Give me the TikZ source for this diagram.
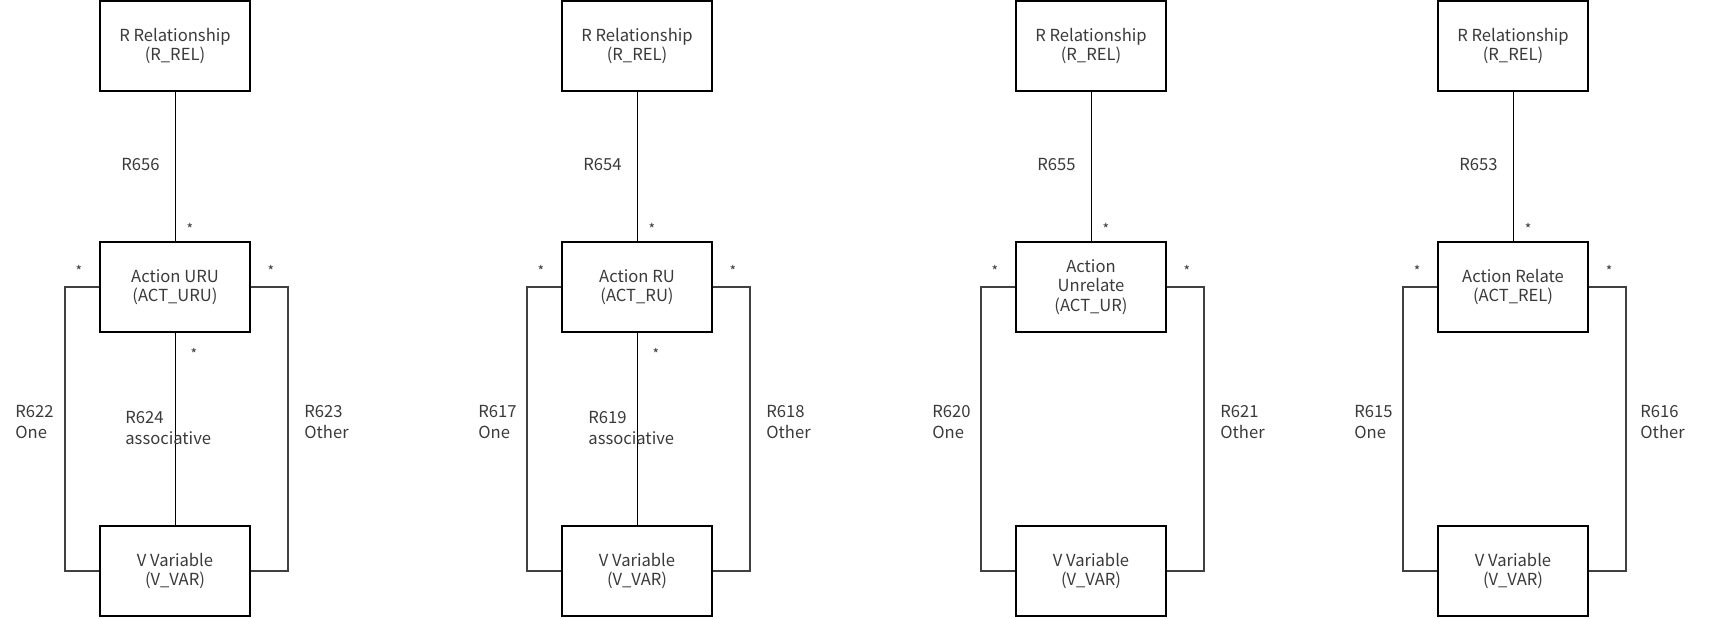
\documentclass[tikz,border=0pt]{standalone}
\usepackage{fontspec}
\setmainfont{Noto Sans CJK JP}
\usepackage{tikz}
\usetikzlibrary{positioning}
\definecolor{txtgray}{HTML}{3A3A3A}
\tikzset{
    block/.style={rectangle, draw, line width=1pt, minimum width=75pt, minimum height=45pt, align=center, text=txtgray, font=\fontsize{8.3pt}{9.8pt}\selectfont},
    rel/.style={line width=0.5pt},
    loopline/.style={line width=0.6pt, draw=black!75},
    tag/.style={align=left, anchor=west, text=txtgray, inner sep=0pt, font=\fontsize{8.3pt}{10.5pt}\selectfont},
    mult/.style={text=txtgray, inner sep=0pt, font=\fontsize{7pt}{8pt}\selectfont}
}
\begin{document}
\begin{tikzpicture}[x=0.5pt, y=-0.5pt]
    \useasboundingbox (0,0) rectangle (1728,618);

    % Nodes
    \node (rel1) [block] at (175,46) {R Relationship\\(R\_REL)};
    \node (act1) [block, below=74.5pt of rel1] {Action URU\\(ACT\_URU)};
    \node (var1) [block, below=96pt of act1] {V Variable\\(V\_VAR)};

    \node (rel2) [block] at (637,46) {R Relationship\\(R\_REL)};
    \node (act2) [block, below=74.5pt of rel2] {Action RU\\(ACT\_RU)};
    \node (var2) [block, below=96pt of act2] {V Variable\\(V\_VAR)};

    \node (rel3) [block] at (1091,46) {R Relationship\\(R\_REL)};
    \node (act3) [block, below=74.5pt of rel3] {Action\\Unrelate\\(ACT\_UR)};
    \node (var3) [block, below=96pt of act3] {V Variable\\(V\_VAR)};

    \node (rel4) [block] at (1513,46) {R Relationship\\(R\_REL)};
    \node (act4) [block, below=74.5pt of rel4] {Action Relate\\(ACT\_REL)};
    \node (var4) [block, below=96pt of act4] {V Variable\\(V\_VAR)};

    % Relationships
    \draw [rel] (rel1) -- (act1);
    \draw [rel] (act1) -- (var1);
    \draw [loopline] (act1.west) -- ++(-34,0) |- (var1.west);
    \draw [loopline] (act1.east) -- ++(37,0) |- (var1.east);

    \draw [rel] (rel2) -- (act2);
    \draw [rel] (act2) -- (var2);
    \draw [loopline] (act2.west) -- ++(-34,0) |- (var2.west);
    \draw [loopline] (act2.east) -- ++(37,0) |- (var2.east);

    \draw [rel] (rel3) -- (act3);
    \draw [loopline] (act3.west) -- ++(-34,0) |- (var3.west);
    \draw [loopline] (act3.east) -- ++(37,0) |- (var3.east);

    \draw [rel] (rel4) -- (act4);
    \draw [loopline] (act4.west) -- ++(-34,0) |- (var4.west);
    \draw [loopline] (act4.east) -- ++(37,0) |- (var4.east);

    % Labels
    \node (r656) [tag] at (121,165) {R656};
    \node (r622) [tag] at (15,422) {R622\\One};
    \node (r624) [tag] at (125,428) {R624\\associative};
    \node (r623) [tag] at (304,422) {R623\\Other};

    \node (r654) [tag] at (583,165) {R654};
    \node (r617) [tag] at (478,422) {R617\\One};
    \node (r619) [tag] at (588,428) {R619\\associative};
    \node (r618) [tag] at (766,422) {R618\\Other};

    \node (r655) [tag] at (1037,165) {R655};
    \node (r620) [tag] at (932,422) {R620\\One};
    \node (r621) [tag] at (1220,422) {R621\\Other};

    \node (r653) [tag] at (1459,165) {R653};
    \node (r615) [tag] at (1354,422) {R615\\One};
    \node (r616) [tag] at (1640,422) {R616\\Other};

    % Multiplicities
    \node (m1a) [mult] at ([shift={(15,-12)}]act1.north) {*};
    \node (m1b) [mult] at ([shift={(-20,-16)}]act1.west) {*};
    \node (m1c) [mult] at ([shift={(20,-16)}]act1.east) {*};
    \node (m1d) [mult] at ([shift={(19,21)}]act1.south) {*};

    \node (m2a) [mult] at ([shift={(15,-12)}]act2.north) {*};
    \node (m2b) [mult] at ([shift={(-20,-16)}]act2.west) {*};
    \node (m2c) [mult] at ([shift={(20,-16)}]act2.east) {*};
    \node (m2d) [mult] at ([shift={(19,21)}]act2.south) {*};

    \node (m3a) [mult] at ([shift={(15,-12)}]act3.north) {*};
    \node (m3b) [mult] at ([shift={(-20,-16)}]act3.west) {*};
    \node (m3c) [mult] at ([shift={(20,-16)}]act3.east) {*};

    \node (m4a) [mult] at ([shift={(15,-12)}]act4.north) {*};
    \node (m4b) [mult] at ([shift={(-20,-16)}]act4.west) {*};
    \node (m4c) [mult] at ([shift={(20,-16)}]act4.east) {*};

\end{tikzpicture}
\end{document}
